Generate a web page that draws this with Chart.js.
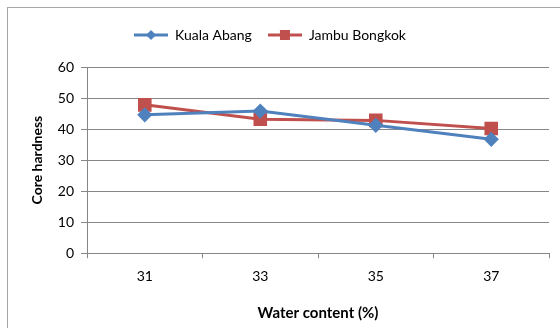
<!DOCTYPE html>
<html>
<head>
<meta charset="utf-8">
<script src="https://cdn.jsdelivr.net/npm/chart.js@4"></script>
<style>
  html, body { margin: 0; padding: 0; background: #fff; overflow: hidden; }
  #wrap { position: relative; width: 560px; height: 328px; overflow: hidden; }
  #frame { position: absolute; left: 7px; top: 7px; width: 700px; height: 500px; border: 1px solid #a6a6a6; box-sizing: border-box; }
  #c { position: absolute; left: 0; top: 0; }
</style>
</head>
<body>
<div id="wrap">
  <div id="frame"></div>
  <canvas id="c" width="560" height="328"></canvas>
</div>
<script>
const categories = ['31', '33', '35', '37'];
const kualaAbang = [44.6, 45.8, 41.2, 36.7];
const jambuBongkok = [47.8, 43.2, 42.8, 40.2];
const yTicks = [0, 10, 20, 30, 40, 50, 60];

const BLUE = '#4F81BD';
const RED = '#C0504D';
const FONT = 'Lato, "Open Sans", sans-serif';

// Legend swatch: a short line with the series marker in the middle
function swatch(color, shape) {
  const cv = document.createElement('canvas');
  cv.width = 34; cv.height = 12;
  const g = cv.getContext('2d');
  g.strokeStyle = color; g.lineWidth = 3;
  g.beginPath(); g.moveTo(0, 6); g.lineTo(34, 6); g.stroke();
  g.fillStyle = color;
  if (shape === 'diamond') {
    g.beginPath(); g.moveTo(17, 1); g.lineTo(22, 6); g.lineTo(17, 11); g.lineTo(12, 6); g.closePath(); g.fill();
  } else {
    g.fillRect(12, 1, 10, 10);
  }
  return cv;
}

// Extra space below the legend, and the legend sits a little left of centre
const legendPlacement = {
  id: 'legendPlacement',
  beforeInit(chart) {
    const legend = chart.legend;
    const fit = legend.fit;
    legend.fit = function () {
      fit.call(this);
      this.height += 15;
    };
    const draw = legend.draw;
    legend.draw = function (area) {
      this.ctx.save();
      this.ctx.translate(-19, 0);
      draw.call(this, area);
      this.ctx.restore();
    };
  }
};

new Chart(document.getElementById('c'), {
  type: 'line',
  plugins: [legendPlacement],
  data: {
    labels: categories,
    datasets: [
      {
        label: 'Kuala Abang',
        data: kualaAbang,
        borderColor: BLUE,
        backgroundColor: BLUE,
        borderWidth: 3,
        pointStyle: 'rectRot',
        pointRadius: 5.5,
        pointHoverRadius: 5.5,
        tension: 0,
        legendSwatch: swatch(BLUE, 'diamond')
      },
      {
        label: 'Jambu Bongkok',
        data: jambuBongkok,
        borderColor: RED,
        backgroundColor: RED,
        borderWidth: 3,
        pointStyle: 'rect',
        pointRadius: 7.5,
        pointHoverRadius: 7.5,
        tension: 0,
        legendSwatch: swatch(RED, 'square')
      }
    ]
  },
  options: {
    responsive: false,
    animation: false,
    events: [],
    layout: { padding: { top: 12, right: 11, left: 29, bottom: 6 } },
    plugins: {
      tooltip: { enabled: false },
      legend: {
        position: 'top',
        labels: {
          usePointStyle: true,
          pointStyleWidth: 34,
          boxHeight: 12,
          color: '#000',
          font: { family: FONT, size: 14 },
          padding: 16,
          generateLabels(chart) {
            return chart.data.datasets.map((ds, i) => ({
              text: ds.label,
              pointStyle: ds.legendSwatch,
              fillStyle: ds.borderColor,
              strokeStyle: ds.borderColor,
              lineWidth: 0,
              hidden: false,
              datasetIndex: i
            }));
          }
        }
      }
    },
    scales: {
      x: {
        offset: true,
        grid: {
          offset: true,
          drawOnChartArea: false,
          drawTicks: true,
          tickLength: 5,
          color: '#868686'
        },
        border: { color: '#868686', width: 1 },
        ticks: { color: '#000', font: { family: FONT, size: 14 }, padding: 10 },
        title: {
          display: true,
          text: 'Water content (%)',
          color: '#000',
          font: { family: FONT, size: 15, weight: 'bold' },
          padding: { top: 9, bottom: 0 }
        }
      },
      y: {
        min: 0,
        max: 60,
        afterBuildTicks(scale) { scale.ticks = yTicks.map(v => ({ value: v })); },
        grid: { color: '#868686', tickLength: 6, drawTicks: true },
        border: { color: '#868686', width: 1 },
        ticks: { color: '#000', font: { family: FONT, size: 14 }, padding: 7 },
        title: {
          display: true,
          text: 'Core hardness',
          color: '#000',
          font: { family: FONT, size: 14, weight: 'bold' },
          padding: { top: 0, bottom: 5 }
        }
      }
    }
  }
});
</script>
</body>
</html>
